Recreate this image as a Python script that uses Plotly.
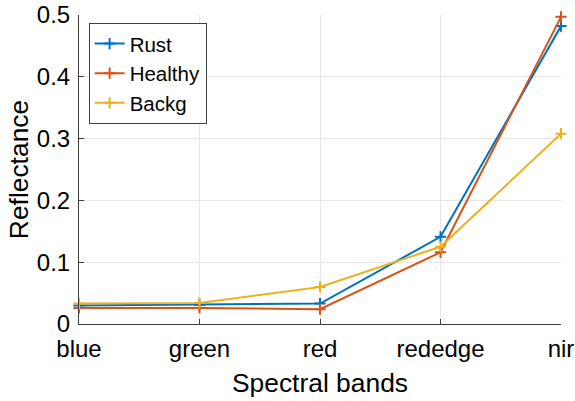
import plotly.graph_objects as go

bands = ["blue", "green", "red", "rededge", "nir"]
rust = [0.030, 0.031, 0.033, 0.141, 0.482]
healthy = [0.026, 0.026, 0.024, 0.116, 0.497]
backg = [0.033, 0.034, 0.060, 0.125, 0.308]

series = [("Rust", rust, "#0072BD"), ("Healthy", healthy, "#D95319"), ("Backg", backg, "#EDB120")]

fig = go.Figure()
for name, vals, col in series:
    fig.add_trace(go.Scatter(
        x=bands, y=vals, name=name, mode="lines+markers",
        line=dict(color=col, width=2),
        marker=dict(symbol="cross-thin", size=8, line=dict(color=col, width=2)),
        cliponaxis=False,
    ))

font = "Liberation Sans, Arial, sans-serif"
axcol = "#404040"
fig.update_layout(
    width=575, height=401,
    margin=dict(l=79, r=14, t=15, b=77),
    paper_bgcolor="white", plot_bgcolor="white",
    font=dict(family=font, size=24, color="black"),
    showlegend=True,
    legend=dict(
        x=0.02, y=0.975, xanchor="left", yanchor="top",
        bgcolor="white", bordercolor=axcol, borderwidth=1,
        font=dict(size=20.5, color="black"),
        tracegroupgap=0, itemwidth=30,
    ),
)
fig.update_xaxes(
    type="category", range=[0, 4], automargin=False,
    showline=True, linecolor=axcol, linewidth=1,
    ticks="inside", ticklen=5, tickcolor=axcol,
    showgrid=True, gridcolor="#e6e6e6", gridwidth=1,
    zeroline=False, ticklabelstandoff=3,
    title=dict(text="Spectral bands", font=dict(size=26.4, color="black"), standoff=12),
    tickfont=dict(size=24, color="black"),
)
fig.update_yaxes(
    range=[0, 0.5], dtick=0.1, tick0=0, automargin=False,
    showline=True, linecolor=axcol, linewidth=1,
    ticks="inside", ticklen=5, tickcolor=axcol,
    showgrid=True, gridcolor="#e6e6e6", gridwidth=1,
    zeroline=False, ticklabelstandoff=3,
    title=dict(text="Reflectance", font=dict(size=26.4, color="black"), standoff=0),
    tickfont=dict(size=24, color="black"),
)

fig.write_html("out.html")
